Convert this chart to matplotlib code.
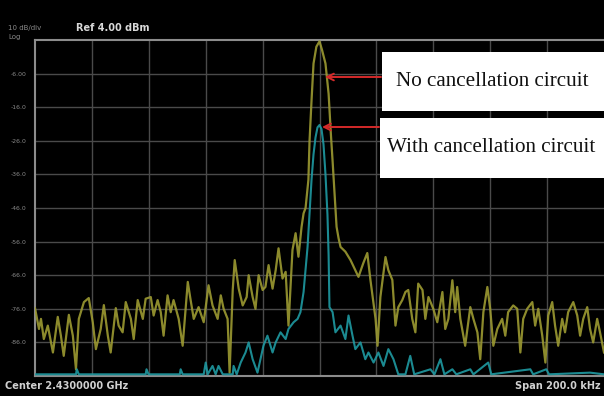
import matplotlib
matplotlib.use("Agg")
import matplotlib.pyplot as plt
import numpy as np

# Frequency offset from centre (kHz) and level (dBm) of each trace
no_cancel_khz = [
    -100, -98.6, -97.9, -96.9, -95.5, -93.7, -92.0, -90.9, -89.9, -88.1,
    -86.7, -85.6, -84.6, -82.8, -81.1, -79.7, -78.6, -76.9, -75.8, -74.4,
    -73.4, -71.6, -70.6, -69.2, -68.1, -66.3, -65.3, -63.9, -62.1, -61.1,
    -59.3, -58.3, -56.9, -55.8, -54.8, -53.4, -52.3, -51.3, -49.5, -48.1,
    -46.3, -45.3, -44.2, -42.5, -40.7, -39.0, -37.6, -35.8, -34.7, -33.7,
    -32.3, -31.6, -30.5, -29.8, -28.4, -27.0, -25.6, -24.9, -23.5, -22.5,
    -21.4, -20.0, -19.0, -17.9, -16.5, -15.4, -14.4, -13.0, -11.9, -10.9,
    -9.5, -8.4, -7.4, -6.3, -5.6, -4.9, -3.9, -3.5, -2.8, -2.1,
    -1.1, 0.0, 0.9, 2.1, 3.2, 4.0, 4.6, 5.3, 6.0, 6.7,
    7.4, 9.1, 10.9, 12.6, 13.7, 15.4, 16.8, 17.9, 19.7, 20.4,
    21.4, 23.2, 24.2, 25.6, 26.7, 27.7, 29.1, 30.2, 31.2, 32.6,
    33.7, 34.7, 36.2, 37.2, 38.3, 40.0, 41.4, 43.2, 44.2, 45.3,
    46.7, 47.7, 48.4, 49.5, 51.2, 53.0, 54.1, 55.5, 56.5, 57.6,
    59.0, 60.0, 61.1, 62.5, 64.2, 65.3, 66.3, 68.1, 69.5, 70.6,
    71.6, 73.0, 74.8, 75.8, 76.9, 78.3, 79.4, 80.4, 81.8, 82.8,
    83.9, 85.3, 86.3, 87.4, 89.2, 90.6, 91.6, 92.7, 94.1, 95.1,
    96.2, 97.6, 98.6, 100,
]
no_cancel_dbm = [
    -75.8, -82, -79, -85, -81, -89, -78.4, -84, -90, -77.8,
    -84, -94, -79, -74, -72.8, -80, -88, -82, -74.9, -84,
    -89, -75.8, -81, -83, -74, -79, -85, -73.4, -79, -73,
    -72.5, -78, -73.4, -77, -84, -72, -77, -73.4, -79, -87,
    -68, -73.4, -79, -75.5, -80, -69, -75, -79, -72, -76,
    -79, -95, -70.4, -61.5, -70, -75, -72.5, -66, -72.5, -76,
    -66, -70.4, -69.5, -63, -70, -64.5, -58, -67, -65, -81,
    -58.5, -53.5, -60.5, -51.6, -47.6, -46, -37.6, -26, -14, -3,
    2.0, 3.6, 1.0, -3, -12, -24, -32, -42, -51.6, -55,
    -57.6, -59, -61.5, -64.5, -66.5, -62.4, -59.4, -67.4, -79, -87,
    -72.5, -60.6, -64.5, -67.4, -81, -75.5, -73.4, -71, -70.4, -79,
    -83, -68.5, -70.4, -79, -72.5, -76, -80, -71, -82, -79,
    -67.5, -77, -69.5, -79, -87, -75.5, -79, -83, -91, -77,
    -69.5, -76, -87, -82, -79, -84, -77, -75, -76, -89,
    -79, -76, -74, -81, -76, -84, -92, -78, -74, -81,
    -87, -79, -83, -77, -74, -78, -84, -79, -75.5, -82,
    -86, -79, -83, -89,
]

with_cancel_khz = [
    -100, -85.6, -85.3, -84.6, -61.1, -60.8, -60.1, -49.1, -48.8, -48.1,
    -40.7, -40.0, -39.3, -37.6, -36.5, -35.5, -34.0, -30.5, -30.2, -29.1,
    -27.7, -26.0, -24.9, -23.5, -21.8, -19.7, -18.3, -16.5, -15.4, -13.7,
    -11.9, -10.9, -9.1, -7.7, -6.7, -5.6, -4.2, -3.5, -2.8, -2.1,
    -1.4, -0.7, 0.0, 0.7, 1.4, 2.1, 2.8, 3.2, 3.5, 4.6,
    5.6, 7.4, 9.1, 10.2, 11.6, 12.6, 14.4, 16.1, 17.2, 19.0,
    20.7, 22.5, 24.2, 26.0, 27.7, 30.2, 31.9, 33.3, 39.0, 40.4,
    42.5, 43.9, 46.7, 48.1, 53.0, 54.1, 59.3, 60.4, 74.1, 75.1,
    79.7, 80.7, 95.1, 100,
]
with_cancel_dbm = [
    -95.5, -95.5, -94, -95.5, -95.5, -94, -95.5, -95.5, -94, -95.5,
    -95.5, -92, -95.5, -93, -95.5, -93, -95.5, -95.5, -93, -95.5,
    -92, -89, -86, -91, -95, -87, -84, -89, -86, -83,
    -85, -82, -80, -79, -77, -71, -57.6, -47.6, -37.6, -30,
    -25, -22, -21.3, -22.5, -27, -36, -48, -60, -75.5, -77,
    -83, -81, -85, -78, -84, -88, -86, -91, -89, -92,
    -89, -93, -88, -91, -95.5, -95.5, -90, -95.5, -94, -95.5,
    -91, -95.5, -94, -95.5, -94, -95.5, -92, -95.5, -94, -95.5,
    -94, -95.5, -95, -95.5,
]

ref_level = 4.0
db_per_div = 10
y_tick_values = [-6, -16, -26, -36, -46, -56, -66, -76, -86]
y_tick_labels = ["-6.00", "-16.0", "-26.0", "-36.0", "-46.0",
                 "-56.0", "-66.0", "-76.0", "-86.0"]
x_grid_khz = [-80, -60, -40, -20, 0, 20, 40, 60, 80]

W, H = 604, 396
fig = plt.figure(figsize=(W / 100, H / 100), dpi=100, facecolor="black")


def fx(px):
    return px / W


def fy(py):
    return 1 - py / H


ax = fig.add_axes([fx(35), fy(376), fx(604) - fx(35), fy(40) - fy(376)])
ax.set_facecolor("black")
ax.set_xlim(-100, 100)
ax.set_ylim(ref_level - 10 * db_per_div, ref_level)

ax.set_xticks(x_grid_khz)
ax.set_xticklabels([])
ax.set_yticks(y_tick_values)
ax.set_yticklabels(y_tick_labels)
ax.tick_params(axis="both", length=0, colors="#8a8a8a", labelsize=4.4, pad=6)
ax.grid(True, color="#4a4a4a", linewidth=1.0)

for side in ("left", "bottom", "top"):
    ax.spines[side].set_color("#8c8c8c")
    ax.spines[side].set_linewidth(1.5)
ax.spines["right"].set_visible(False)

ax.plot(no_cancel_khz, no_cancel_dbm, color="#9c9a32", linewidth=1.6,
        alpha=0.9, zorder=3)
ax.plot(with_cancel_khz, with_cancel_dbm, color="#1f9aa2", linewidth=1.5,
        alpha=0.9, zorder=4)

# Instrument header and footer
fig.text(fx(8), fy(28), "10 dB/div", color="#8a8a8a", fontsize=5.0,
         va="center", ha="left")
fig.text(fx(76), fy(28), "Ref 4.00 dBm", color="#d8d8d8", fontsize=7.0,
         fontweight="bold", va="center", ha="left")
fig.text(fx(8), fy(37), "Log", color="#8a8a8a", fontsize=5.0,
         va="center", ha="left")
fig.text(fx(5), fy(386), "Center 2.4300000 GHz", color="#d0d0d0", fontsize=7.0,
         fontweight="bold", va="center", ha="left")
fig.text(fx(601), fy(386), "Span 200.0 kHz", color="#d0d0d0", fontsize=7.0,
         fontweight="bold", va="center", ha="right")

# Legend boxes with arrows pointing at each peak
boxes = [
    (382, 52, 111, "No cancellation circuit", 77, 325),
    (380, 118, 178, "With cancellation circuit", 127, 322),
]
for left, top, bottom, label, arrow_y, arrow_x in boxes:
    fig.patches.append(plt.Rectangle((fx(left), fy(bottom)), fx(604) - fx(left),
                                     fy(top) - fy(bottom), transform=fig.transFigure,
                                     facecolor="white", edgecolor="none", zorder=10))
    fig.text(fx((left + 603) / 2), fy((top + bottom) / 2), label,
             family="Liberation Serif", fontsize=15.2, color="#111111",
             ha="center", va="center", zorder=11)
    ax.annotate("", xy=(fx(arrow_x), fy(arrow_y)), xycoords="figure fraction",
                xytext=(fx(left - 1), fy(arrow_y)), textcoords="figure fraction",
                arrowprops=dict(arrowstyle="->", color="#d42a2a", lw=1.4,
                                mutation_scale=12, shrinkA=0, shrinkB=0),
                zorder=12, annotation_clip=False)

fig.savefig("out.png", dpi=100, facecolor="black")
